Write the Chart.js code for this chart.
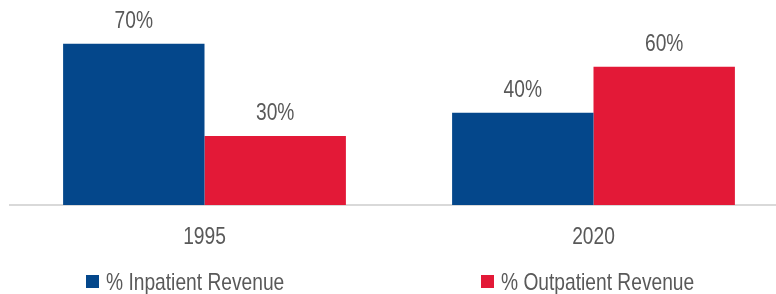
<!DOCTYPE html>
<html>
<head>
<meta charset="utf-8">
<script src="https://cdn.jsdelivr.net/npm/chart.js@4.4.1/dist/chart.umd.min.js"></script>
<style>
  html, body { margin: 0; padding: 0; background: #fff; overflow: hidden; }
  #wrap { position: relative; width: 788px; height: 294px; }
</style>
</head>
<body>
<div id="wrap"><canvas id="grafica"></canvas></div>
<script>
// datos de la grafica
var years = ['1995', '2020'];
var inpatient = [70, 40];
var outpatient = [30, 60];
var seriesNames = ['% Inpatient Revenue', '% Outpatient Revenue'];

var FONT = '24px "Liberation Sans", Arial, sans-serif';
var GRIS = '#595959';
var ANGOSTO = 0.8; // texto angosto tipo Arial Narrow

// escribe texto comprimido horizontalmente
function textoAngosto(ctx, txt, x, y, align) {
  ctx.save();
  ctx.translate(x, y);
  ctx.scale(ANGOSTO, 1);
  ctx.textAlign = align;
  ctx.fillText(txt, 0, 0);
  ctx.restore();
}

// etiquetas encima de cada barra y del eje x
const etiquetas = {
  id: 'etiquetas',
  afterDatasetsDraw(chart) {
    const ctx = chart.ctx;
    ctx.save();
    ctx.font = FONT;
    ctx.fillStyle = GRIS;
    ctx.textBaseline = 'alphabetic';
    chart.data.datasets.forEach((ds, i) => {
      chart.getDatasetMeta(i).data.forEach((bar, j) => {
        textoAngosto(ctx, ds.data[j] + '%', bar.x, bar.y - 15.5, 'center');
      });
    });
    const xs = chart.scales.x;
    chart.data.labels.forEach((lab, i) => {
      textoAngosto(ctx, lab, xs.getPixelForValue(i), 244, 'center');
    });
    ctx.restore();
  }
};

// leyenda dibujada a mano
const leyenda = {
  id: 'leyenda',
  afterDraw(chart) {
    const ctx = chart.ctx;
    const xs = [86, 481];
    ctx.save();
    ctx.font = FONT;
    ctx.textBaseline = 'alphabetic';
    chart.data.datasets.forEach((ds, i) => {
      ctx.fillStyle = ds.backgroundColor;
      ctx.fillRect(xs[i], 275, 13, 13);
      ctx.fillStyle = GRIS;
      textoAngosto(ctx, ds.label, xs[i] + 20, 289.5, 'left');
    });
    ctx.restore();
  }
};

var grafica = new Chart(document.getElementById('grafica'), {
  type: 'bar',
  data: {
    labels: years,
    datasets: [{
      label: seriesNames[0],
      data: inpatient,
      backgroundColor: '#04478b',
      categoryPercentage: 0.727,
      barPercentage: 1.0
    }, {
      label: seriesNames[1],
      data: outpatient,
      backgroundColor: '#e31937',
      categoryPercentage: 0.727,
      barPercentage: 1.0
    }]
  },
  options: {
    responsive: true,
    maintainAspectRatio: false,
    animation: false,
    layout: { padding: { left: 10, right: 0, top: 0, bottom: 89 } },
    plugins: {
      legend: { display: false },
      tooltip: { enabled: false }
    },
    scales: {
      x: {
        grid: { display: false, drawTicks: false },
        border: { display: true, color: '#d9d9d9', width: 2 },
        ticks: { display: false }
      },
      y: {
        display: false,
        min: 0,
        max: 89
      }
    }
  },
  plugins: [etiquetas, leyenda]
});
</script>
</body>
</html>
